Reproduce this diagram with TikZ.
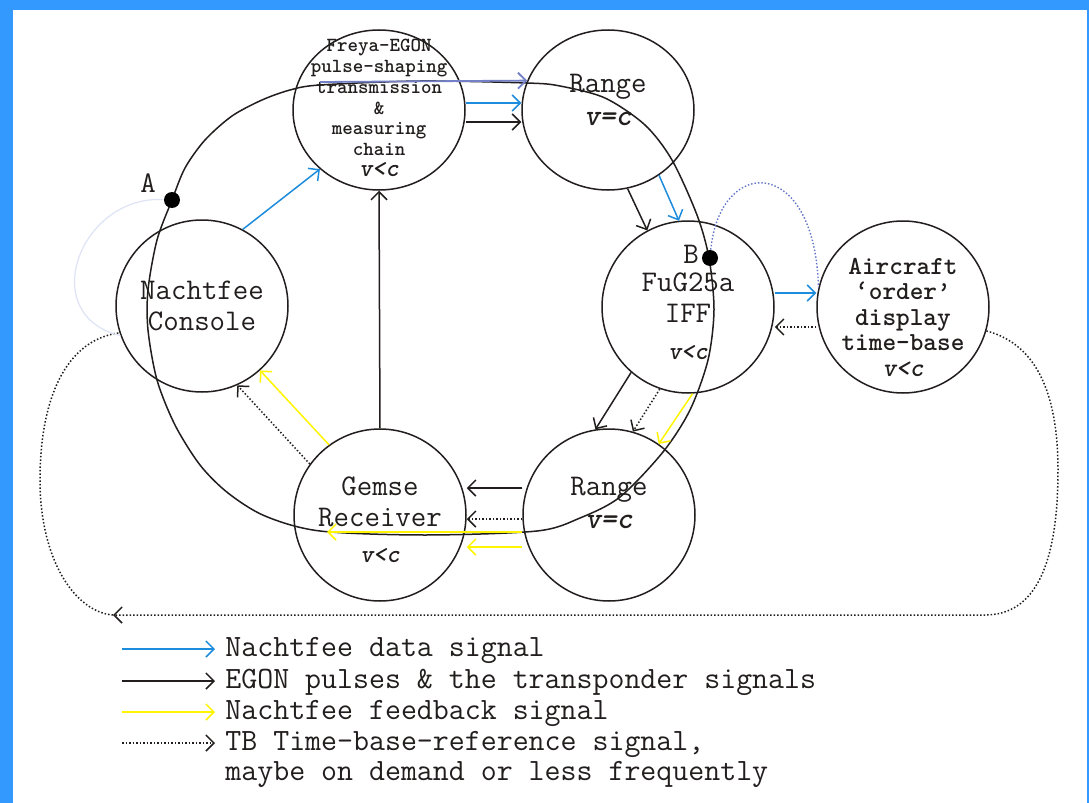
\documentclass[tikz,border=0pt]{standalone}
\usepackage{fontspec}
\usepackage{xcolor}
\usepackage{tikz}
\usetikzlibrary{positioning}
\usetikzlibrary{shapes,arrows.meta}
\definecolor{nfblue}{RGB}{30,140,220}
\definecolor{nfyellow}{RGB}{255,245,0}
\definecolor{egonlav}{RGB}{115,128,200}
\definecolor{faintlav}{RGB}{222,228,246}
\definecolor{dotblue}{RGB}{95,115,200}
\definecolor{frameblue}{RGB}{51,153,255}
\definecolor{inkgray}{RGB}{35,30,30}
\tikzstyle{station} = [ellipse, draw=inkgray, line width=0.75pt, minimum width=86pt, minimum height=86pt, inner sep=0pt]
\tikzstyle{flat} = [minimum height=80pt]
\tikzstyle{bigtext} = [align=center, inner sep=0pt, text=inkgray, font=\ttfamily\fontsize{15}{15.5}\selectfont]
\tikzstyle{smalltext} = [align=center, inner sep=0pt, text=inkgray, font=\ttfamily\bfseries\fontsize{10}{10.4}\selectfont]
\tikzstyle{midtext} = [align=center, inner sep=0pt, text=inkgray, font=\ttfamily\bfseries\fontsize{13}{12.75}\selectfont]
\tikzstyle{legtext} = [align=left, anchor=base west, inner sep=0pt, text=inkgray, font=\ttfamily\fontsize{15.5}{15}\selectfont]
\tikzstyle{marker} = [circle, fill=black, inner sep=0pt, minimum size=8pt]
\tikzstyle{line} = [draw, line width=0.75pt, -{Straight Barb[length=4pt,width=8pt]}]
\tikzstyle{data} = [line, nfblue]
\tikzstyle{pulse} = [line, inkgray]
\tikzstyle{feedback} = [line, nfyellow]
\tikzstyle{timebase} = [line, inkgray, densely dotted]
\newcommand{\vless}{{\bfseries\itshape\fontsize{12.5}{13}\selectfont v<c}}
\newcommand{\veq}{{\bfseries\itshape v=c}}

\begin{document}
\begin{tikzpicture}[x=0.5pt, y=-0.5pt, node distance=114.5pt]
% frame
\fill[frameblue] (0,0) rectangle (1089,803);
\fill[white] (13,10) rectangle (1087,803);
\useasboundingbox (0,0) rectangle (1089,803);

% orbit
\draw[inkgray, line width=0.75pt] plot[smooth cycle] coordinates {(172,200) (157,240) (148,290) (148,330) (157,380) (175,425) (200,465) (228,493) (265,516) (320,531) (425,535) (537,531) (580,518) (620,497) (663,452) (690,410) (708,360) (714,310) (709,258) (697,215) (672,160) (645,125) (605,98) (560,86) (527,83) (420,81) (320,85) (290,90) (262,100) (232,116) (205,140) (185,168)};

% nodes
\node[station, flat] (freya) at (379,110) {};
\node[station, flat, right of=freya] (rangetop) {};
\node[station] (console) at (202,306) {};
\node[station] (fug) at (688,307) {};
\node[station, right of=fug, xshift=-7pt] (aircraft) {};
\node[station] (gemse) at (380,515) {};
\node[station, right of=gemse] (rangebot) {};

\node[smalltext] (freyatxt) at ([yshift=1pt]freya) {Freya-EGON\\pulse-shaping\\transmission\\\&\\measuring\\chain\\\vless};
\node[bigtext] (rangetoptxt) at ([yshift=5pt]rangetop) {Range\\[1pt]\veq};
\node[bigtext] (consoletxt) at (console) {Nachtfee\\Console};
\node[bigtext] (fugtxt) at ([yshift=-4.5pt]fug) {FuG25a\\IFF\\[3pt]\vless};
\node[midtext] (aircrafttxt) at ([yshift=-5pt]aircraft) {Aircraft\\‘order’\\display\\time-base\\{\itshape v<c}};
\node[bigtext] (gemsetxt) at ([yshift=-2.5pt]gemse) {Gemse\\Receiver\\[2.5pt]\vless};
\node[bigtext] (rangebottxt) at ([yshift=6pt]rangebot) {Range\\[1pt]\veq};

\node[marker] (adot) at (172,200) {};
\node[marker] (bdot) at (710,258) {};
\node[bigtext] (alabel) at (148,183) {A};
\node[bigtext] (blabel) at (691,254) {B};

% edges
\draw[line, egonlav, line width=0.9pt] ([xshift=-29.5pt,yshift=14pt]freya.center) -- (rangetop.160);
\draw[data] ([yshift=3.5pt]freya.east) -- ([yshift=3.5pt]rangetop.west);
\draw[pulse] ([yshift=-6pt]freya.east) -- ([yshift=-6pt]rangetop.west);
\draw[pulse] (rangetop.284) -- (fug.118);
\draw[data] (rangetop.308) -- (fug.96);
\draw[pulse] (fug.229) -- (rangebot.99);
\draw[timebase] (fug.251) -- (rangebot.74);
\draw[feedback] (fug.273) -- (rangebot.55);
\draw[pulse] ([yshift=13.5pt]rangebot.west) -- ([yshift=13.5pt]gemse.east);
\draw[timebase] ([yshift=-2pt]rangebot.west) -- ([yshift=-2pt]gemse.east);
\draw[feedback] ([yshift=-8.5pt]rangebot.west) -- ([xshift=-26.5pt,yshift=-8.5pt]gemse.center);
\draw[feedback] ([yshift=-16pt]rangebot.west) -- ([yshift=-16pt]gemse.east);
\draw[feedback] (gemse.126) -- (console.312);
\draw[timebase] (gemse.144) -- (console.294);
\draw[pulse] (gemse.north) -- (freya.south);
\draw[data] (console.62) -- (freya.225);
\draw[data] ([yshift=7pt]fug.east) -- ([yshift=7pt]aircraft.west);
\draw[timebase] ([yshift=-10pt]aircraft.west) -- ([yshift=-10pt]fug.east);

% time-base loop
\coordinate (loopend) at (113,615);
\draw[timebase] (aircraft.344) .. controls (1040,345) and (1058,400) .. (1058,470) .. controls (1058,565) and (1035,615) .. (985,615) -- (loopend);
\draw[inkgray, line width=0.75pt, densely dotted] (loopend) .. controls (75,612) and (40,560) .. (40,480) .. controls (40,400) and (65,340) .. (console.198);
\draw[faintlav, line width=0.6pt] (adot) .. controls (80,195) and (35,315) .. (console.200);
\draw[dotblue, line width=0.7pt, densely dotted] (bdot) .. controls (720,155) and (815,155) .. (aircraft.167);

% legend
\coordinate (key1a) at (122,649); \coordinate (key1b) at (215,649);
\coordinate (key2a) at (122,681); \coordinate (key2b) at (215,681);
\coordinate (key3a) at (122,712); \coordinate (key3b) at (215,712);
\coordinate (key4a) at (122,743); \coordinate (key4b) at (215,743);
\draw[data] (key1a) -- (key1b);
\draw[pulse] (key2a) -- (key2b);
\draw[feedback] (key3a) -- (key3b);
\draw[timebase] (key4a) -- (key4b);
\node[legtext] (leg1) at (225,656) {Nachtfee data signal};
\node[legtext] (leg2) at (225,688) {EGON pulses \& the transponder signals};
\node[legtext] (leg3) at (225,719) {Nachtfee feedback signal};
\node[legtext] (leg4) at (225,780) {TB Time-base-reference signal,\\maybe on demand or less frequently};

\end{tikzpicture}
\end{document}
